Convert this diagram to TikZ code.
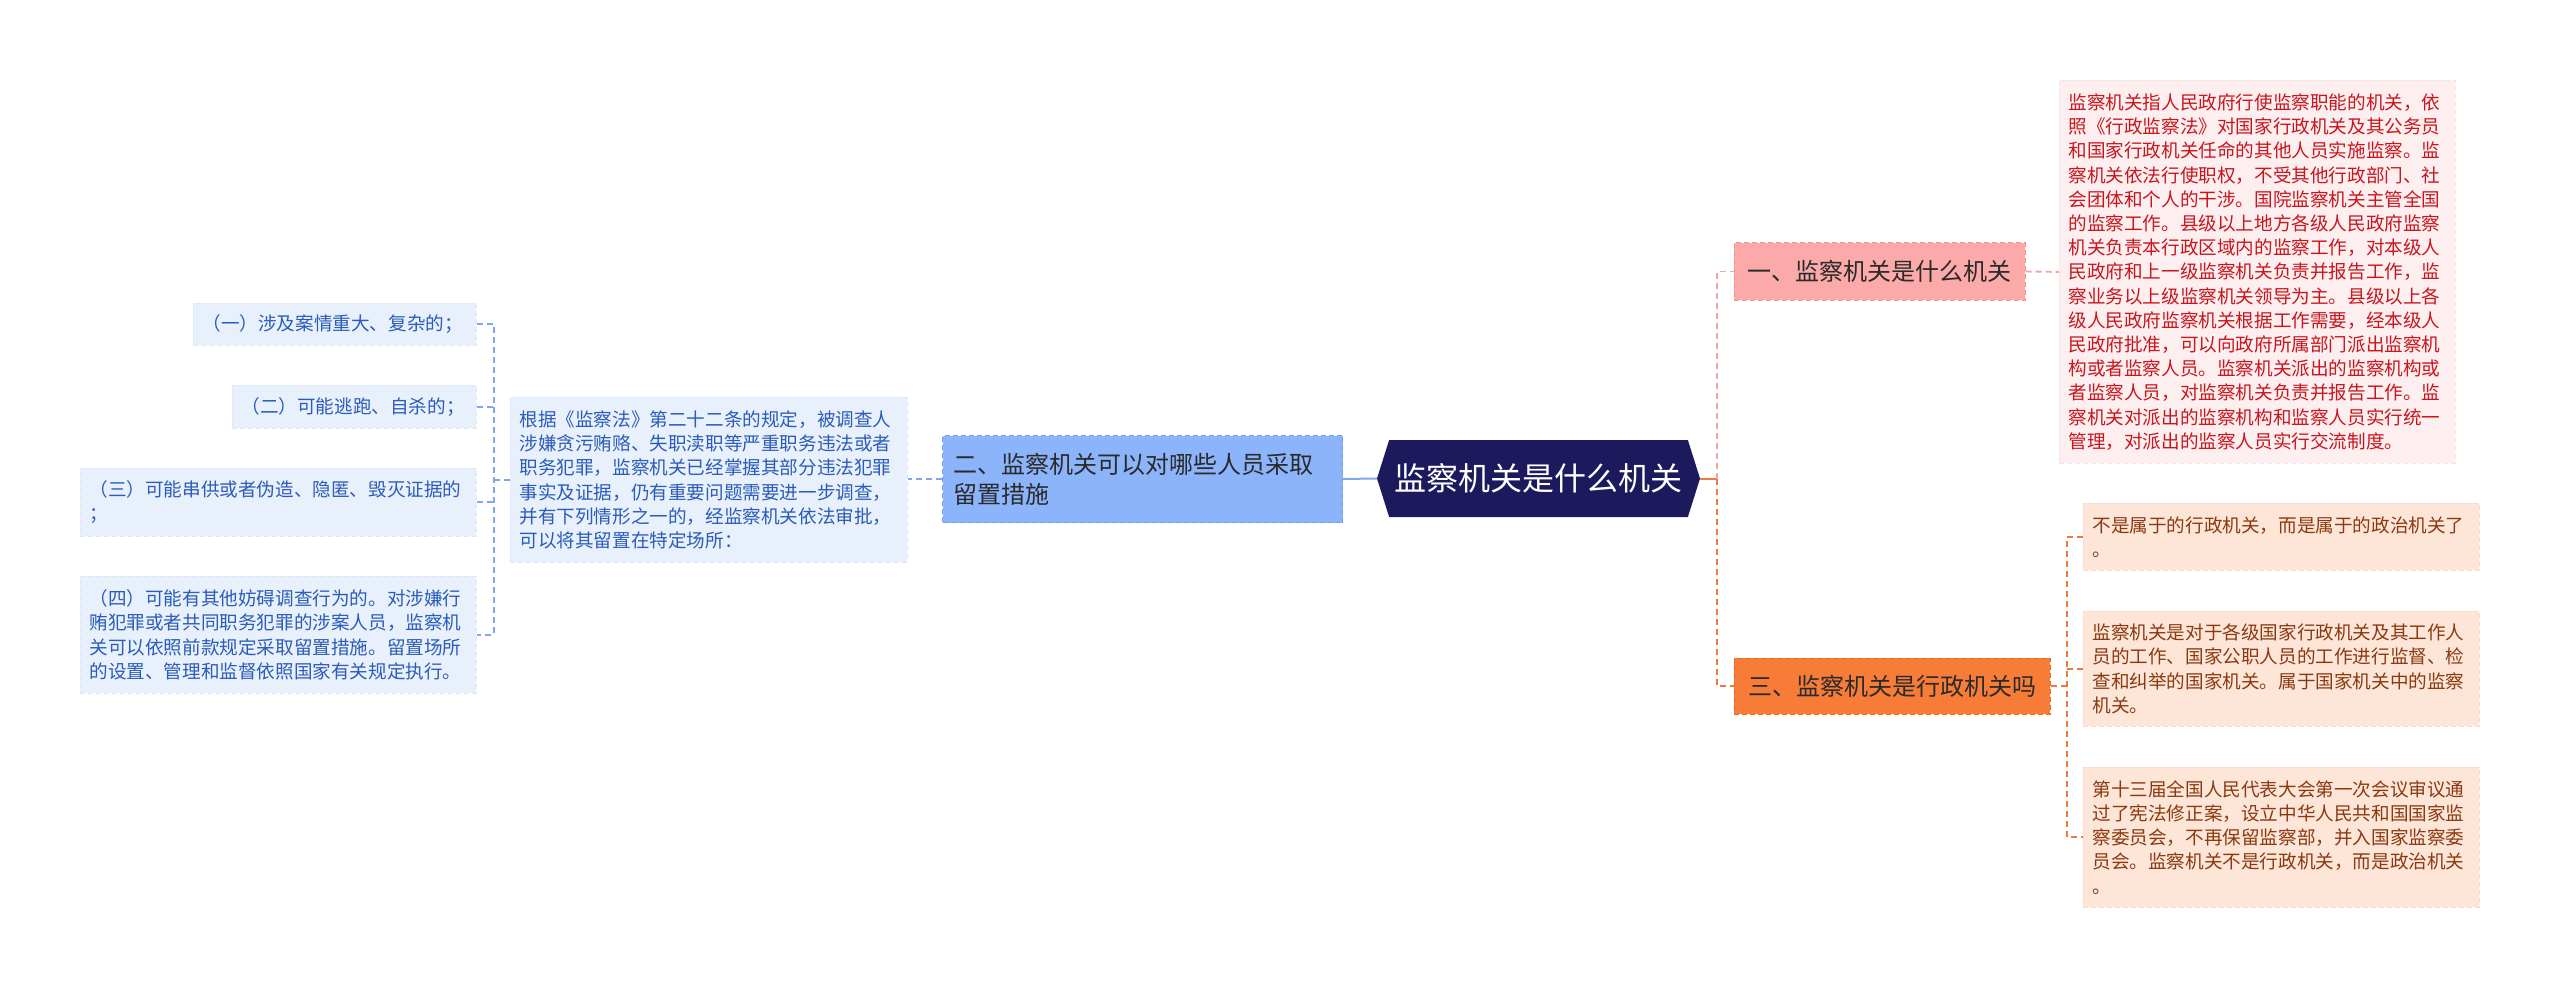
\documentclass[tikz,border=0pt]{standalone}
\usepackage{fontspec}
\setmainfont{Noto Sans CJK SC}
\usetikzlibrary{shapes.symbols}
\definecolor{rootc}{HTML}{1C1A5D}
\definecolor{bonefill}{HTML}{FBA9A9}
\definecolor{bonedraw}{HTML}{F29393}
\definecolor{btwofill}{HTML}{8CB4FA}
\definecolor{btwodraw}{HTML}{73A0EE}
\definecolor{bthreefill}{HTML}{F77C37}
\definecolor{bthreedraw}{HTML}{E36A22}
\definecolor{donefill}{HTML}{FDEFEF}
\definecolor{donedraw}{HTML}{F9E2E2}
\definecolor{donetext}{HTML}{C8161E}
\definecolor{dtwofill}{HTML}{E8F0FC}
\definecolor{dtwodraw}{HTML}{DCE7FA}
\definecolor{dtwotext}{HTML}{2B5CB8}
\definecolor{pfill}{HTML}{FDE5D8}
\definecolor{pdraw}{HTML}{FADACA}
\definecolor{ptext}{HTML}{8A3A10}
\definecolor{darktext}{HTML}{2A2A2A}
\definecolor{blineC}{HTML}{7FA6EE}
\definecolor{plineC}{HTML}{F2A5A5}
\definecolor{olineC}{HTML}{EF7B3B}
\begin{document}
\begin{tikzpicture}[x=1pt,y=-1pt,
  branchbox/.style={draw, dashed, dash pattern=on 5pt off 3pt, line width=1pt, inner sep=0pt, align=center, font=\fontsize{24}{30}\selectfont, text=darktext},
  detailbox/.style={anchor=north west, draw, dashed, dash pattern=on 5pt off 3pt, line width=0.8pt, inner xsep=9pt, inner ysep=0pt, align=left, font=\fontsize{18.6}{24.2}\selectfont},
  bluebox/.style={detailbox, fill=dtwofill, draw=dtwodraw, text=dtwotext},
  pinkbox/.style={detailbox, fill=donefill, draw=donedraw, text=donetext},
  peachbox/.style={detailbox, fill=pfill, draw=pdraw, text=ptext},
  conn/.style={line width=1.9pt, dash pattern=on 6pt off 4pt},
  bline/.style={conn, draw=blineC},
  pline/.style={conn, draw=plineC},
  oline/.style={conn, draw=olineC}
]
\useasboundingbox (0,0) rectangle (2560,987);

% root
\node[signal, signal to=east and west, signal pointer angle=145, fill=rootc, text=white,
  minimum width=323pt, minimum height=77pt, inner sep=0pt,
  font=\fontsize{32}{36}\selectfont] (root) at (1538.5,478.5) {监察机关是什么机关};

% right branches
\node[branchbox, fill=bonefill, draw=bonedraw, minimum width=291pt, minimum height=57pt] (b1) at (1879.5,271.5) {一、监察机关是什么机关};
\node[branchbox, fill=bthreefill, draw=bthreedraw, minimum width=316pt, minimum height=56pt] (b3) at (1892,686) {三、监察机关是行政机关吗};

% left branch
\node[branchbox, anchor=north west, align=left, fill=btwofill, draw=btwodraw, text width=378pt, inner xsep=11pt, minimum height=87pt] (b2) at (942,435) {二、监察机关可以对哪些人员采取\\留置措施};

% detail of branch 1
\node[pinkbox, text width=378pt, minimum height=383pt] (d1) at (2059,80) {监察机关指人民政府行使监察职能的机关，依\\照《行政监察法》对国家行政机关及其公务员\\和国家行政机关任命的其他人员实施监察。监\\察机关依法行使职权，不受其他行政部门、社\\会团体和个人的干涉。国院监察机关主管全国\\的监察工作。县级以上地方各级人民政府监察\\机关负责本行政区域内的监察工作，对本级人\\民政府和上一级监察机关负责并报告工作，监\\察业务以上级监察机关领导为主。县级以上各\\级人民政府监察机关根据工作需要，经本级人\\民政府批准，可以向政府所属部门派出监察机\\构或者监察人员。监察机关派出的监察机构或\\者监察人员，对监察机关负责并报告工作。监\\察机关对派出的监察机构和监察人员实行统一\\管理，对派出的监察人员实行交流制度。};

% details of branch 3
\node[peachbox, text width=378pt, minimum height=67pt] (p1) at (2083,503) {不是属于的行政机关，而是属于的政治机关了\\。};
\node[peachbox, text width=378pt, minimum height=115pt] (p2) at (2083,611) {监察机关是对于各级国家行政机关及其工作人\\员的工作、国家公职人员的工作进行监督、检\\查和纠举的国家机关。属于国家机关中的监察\\机关。};
\node[peachbox, text width=378pt, minimum height=140pt] (p3) at (2083,767) {第十三届全国人民代表大会第一次会议审议通\\过了宪法修正案，设立中华人民共和国国家监\\察委员会，不再保留监察部，并入国家监察委\\员会。监察机关不是行政机关，而是政治机关\\。};

% detail of branch 2
\node[bluebox, text width=379pt, minimum height=165pt] (d2) at (510,397) {根据《监察法》第二十二条的规定，被调查人\\涉嫌贪污贿赂、失职渎职等严重职务违法或者\\职务犯罪，监察机关已经掌握其部分违法犯罪\\事实及证据，仍有重要问题需要进一步调查，\\并有下列情形之一的，经监察机关依法审批，\\可以将其留置在特定场所：};

% children of detail 2
\node[bluebox, text width=265pt, minimum height=42pt] (c1) at (193,303) {（一）涉及案情重大、复杂的；};
\node[bluebox, text width=226pt, minimum height=43pt] (c2) at (232,385) {（二）可能逃跑、自杀的；};
\node[bluebox, text width=378pt, minimum height=68pt] (c3) at (80,468) {（三）可能串供或者伪造、隐匿、毁灭证据的\\；};
\node[bluebox, text width=378pt, minimum height=117pt] (c4) at (80,576) {（四）可能有其他妨碍调查行为的。对涉嫌行\\贿犯罪或者共同职务犯罪的涉案人员，监察机\\关可以依照前款规定采取留置措施。留置场所\\的设置、管理和监督依照国家有关规定执行。};

% connectors right
\draw[line width=2pt, draw=olineC] (root.east) -- ++(17,0) coordinate (jr);
\draw[pline] (jr) |- (b1.west);
\draw[oline] (jr) |- (b3.west);
\draw[pline] (b1.east) -- (d1.west);
\draw[oline] (b3.east) -- ++(17,0);
\draw[oline] (p1.west) -- ++(-16,0) |- (p3.west);
\draw[oline] (p2.west) -- ++(-16,0);

% connectors left
\draw[line width=2pt, draw=blineC] (root.west) -- (b2.east);
\draw[bline] (b2.west) -- (b2.west -| d2.east);
\draw[bline] (c1.east) -- ++(17,0) |- (c4.east);
\draw[bline] (c2.east) -- ++(17,0);
\draw[bline] (c3.east) -- ++(17,0);
\draw[bline] (d2.west) -- ++(-17,0);
\end{tikzpicture}
\end{document}
